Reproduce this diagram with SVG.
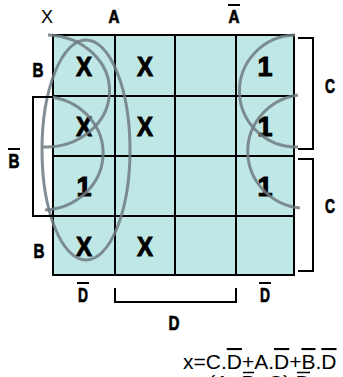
<svg xmlns="http://www.w3.org/2000/svg" width="343" height="377" viewBox="0 0 343 377">
<style>
.b{font-family:'Liberation Sans',Arial,sans-serif;font-weight:bold;fill:#000;stroke:#000;stroke-width:0.7;text-anchor:middle}
.r{font-family:'Liberation Sans',Arial,sans-serif;fill:#000}
.cell{font-size:27px;stroke-width:1}
.lbl{font-size:21px}
.br{fill:none;stroke:#000;stroke-width:2}
.loop{fill:none;stroke:#6e7b82;stroke-width:3;stroke-opacity:0.85}
.ov{stroke:#000;stroke-width:2}
.ov2{stroke:#000;stroke-width:1.5}
</style>
<rect width="343" height="377" fill="#fff"/>
<g id="map">
<rect x="53" y="35" width="241" height="240" fill="#bfe7e5" stroke="#000" stroke-width="2"/>
<path d="M115 35V275M175 35V275M236 35V275M53 96H294M53 156H294M53 216H294" stroke="#000" stroke-width="2" fill="none"/>
</g>
<g id="cells">
<text class="b cell" x="84" y="76" textLength="16" lengthAdjust="spacingAndGlyphs">X</text>
<text class="b cell" x="145" y="76" textLength="16" lengthAdjust="spacingAndGlyphs">X</text>
<text class="b cell" x="265" y="76">1</text>
<text class="b cell" x="84" y="136" textLength="16" lengthAdjust="spacingAndGlyphs">X</text>
<text class="b cell" x="145" y="136" textLength="16" lengthAdjust="spacingAndGlyphs">X</text>
<text class="b cell" x="265" y="136">1</text>
<text class="b cell" x="84" y="196">1</text>
<text class="b cell" x="265" y="196">1</text>
<text class="b cell" x="84" y="256" textLength="16" lengthAdjust="spacingAndGlyphs">X</text>
<text class="b cell" x="145" y="256" textLength="16" lengthAdjust="spacingAndGlyphs">X</text>
</g>
<g id="loops">
<ellipse class="loop" cx="86" cy="150" rx="44" ry="110"/>
<path class="loop" d="M48 35A64 56 0 0 1 43 147"/>
<path class="loop" d="M52 97A62 57 0 0 1 45 210"/>
<path class="loop" d="M295 35A57 56 0 0 0 298 147"/>
<path class="loop" d="M298 95A59 57 0 0 0 300 208"/>
</g>
<g id="connectors">
<path class="br" d="M53 97H33V216H53"/>
<path class="br" d="M298 38H313V149H298"/>
<path class="br" d="M298 159H313V271H298"/>
<path class="br" d="M115 288V302H236V288"/>
</g>
<g id="labels">
<text class="r" x="47" y="23" font-size="18" text-anchor="middle">X</text>
<text class="b" x="114" y="23" font-size="18" textLength="11" lengthAdjust="spacingAndGlyphs">A</text>
<text class="b" x="234" y="23" font-size="18" textLength="11" lengthAdjust="spacingAndGlyphs">A</text>
<line class="ov" x1="228" y1="5" x2="240" y2="5"/>
<text class="b lbl" x="38" y="77" textLength="11" lengthAdjust="spacingAndGlyphs">B</text>
<text class="b lbl" x="14" y="168" textLength="11" lengthAdjust="spacingAndGlyphs">B</text>
<line class="ov" x1="8" y1="149" x2="20" y2="149"/>
<text class="b lbl" x="39" y="258" textLength="11" lengthAdjust="spacingAndGlyphs">B</text>
<text class="b lbl" x="330" y="93" textLength="10" lengthAdjust="spacingAndGlyphs">C</text>
<text class="b lbl" x="330" y="213" textLength="10" lengthAdjust="spacingAndGlyphs">C</text>
<text class="b lbl" x="83" y="302" textLength="10" lengthAdjust="spacingAndGlyphs">D</text>
<line class="ov" x1="77" y1="283" x2="89" y2="283"/>
<text class="b lbl" x="265" y="302" textLength="10" lengthAdjust="spacingAndGlyphs">D</text>
<line class="ov" x1="259" y1="283" x2="271" y2="283"/>
<text class="b lbl" x="174" y="330" textLength="11" lengthAdjust="spacingAndGlyphs">D</text>
</g>
<g id="formula">
<text class="r" x="183" y="369" font-size="21">x=C.<tspan text-decoration="overline">D</tspan>+A.<tspan text-decoration="overline">D</tspan>+<tspan text-decoration="overline">B</tspan>.<tspan text-decoration="overline">D</tspan></text>
<text class="r" x="196" y="390" font-size="21">=(A+B+C).D</text>
<line class="ov2" x1="243" y1="372.5" x2="254" y2="372.5"/>
<line class="ov2" x1="297" y1="372.5" x2="310" y2="372.5"/>
</g>
</svg>
